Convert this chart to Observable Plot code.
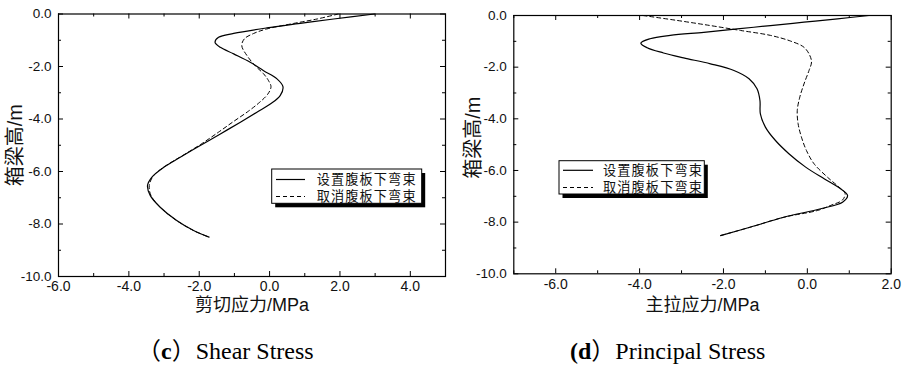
<!DOCTYPE html>
<html><head><meta charset="utf-8">
<script src="https://cdn.jsdelivr.net/npm/d3@7"></script>
<script src="https://cdn.jsdelivr.net/npm/@observablehq/plot@0.6"></script>
<style>
body{margin:0;background:#fff;}
#wrap{position:relative;width:907px;height:365px;overflow:hidden;background:#fff;}
.panel{position:absolute;top:0;height:320px;}
.cap{position:absolute;font-family:"Liberation Serif","Times New Roman",serif;font-size:24px;line-height:26px;white-space:nowrap;color:#000;}
.cj{font-family:"Noto Sans CJK SC",sans-serif;}
</style></head><body>
<div id="wrap">
  <div id="p1" class="panel" style="left:0;width:455px"></div>
  <div id="p2" class="panel" style="left:455px;width:452px"></div>
  <div class="cap" style="left:137px;top:336px"><span class="cj">（</span><b>c</b><span class="cj">）</span>Shear Stress</div>
  <div class="cap" style="left:570px;top:336px"><b>(d</b><span class="cj">）</span>Principal Stress</div>
</div>
<script>
// ---- data ----
const seriesNames = ["设置腹板下弯束", "取消腹板下弯束"];
const yMajor = [0, -2, -4, -6, -8, -10];
const yMinor = [-1, -3, -5, -7, -9];

// (c) Shear stress
const shearXMajor = [-6, -4, -2, 0, 2, 4];
const shearXMinor = [-5, -3, -1, 1, 3, 5];
const shearSolidX = [2.98,1.82,0.87,-0.08,-1.02,-1.45,-1.55,-1.4,-1.02,-0.55,-0.17,0.21,0.38,0.3,0.02,-0.36,-0.83,-1.4,-1.97,-2.54,-3.01,-3.35,-3.47,-3.39,-3.11,-2.64,-2.16,-1.72];
const shearSolidY = [0,-0.19,-0.36,-0.53,-0.74,-0.89,-1.08,-1.27,-1.52,-1.84,-2.16,-2.47,-2.77,-3.11,-3.43,-3.74,-4.12,-4.57,-5.01,-5.46,-5.84,-6.22,-6.54,-6.92,-7.36,-7.87,-8.25,-8.5];
const shearDashX = [1.95,1.35,0.68,-0.08,-0.45,-0.72,-0.79,-0.64,-0.41,-0.17,-0.03,0.04,-0.05,-0.28,-0.6,-1.03,-1.45,-1.94,-2.48,-2.97,-3.3,-3.42,-3.37,-3.11,-2.64,-2.16,-1.72];
const shearDashY = [0,-0.19,-0.36,-0.57,-0.74,-0.95,-1.21,-1.59,-1.97,-2.28,-2.54,-2.77,-3.05,-3.36,-3.7,-4.1,-4.5,-4.95,-5.4,-5.8,-6.16,-6.54,-6.92,-7.36,-7.87,-8.25,-8.5];

// (d) Principal stress
const prinXMajor = [-6, -4, -2, 0, 2];
const prinXMinor = [-7, -5, -3, -1, 1];
const prinSolidX = [1.47,0.72,-0.08,-0.88,-1.67,-2.47,-3.27,-3.75,-3.97,-3.82,-3.43,-2.95,-2.31,-1.75,-1.39,-1.2,-1.13,-1.12,-1.0,-0.76,-0.44,-0.04,0.4,0.76,0.96,0.84,0.32,-0.56,-1.35,-2.07];
const prinSolidY = [0,-0.13,-0.26,-0.39,-0.52,-0.65,-0.77,-0.9,-1.07,-1.25,-1.45,-1.64,-1.87,-2.13,-2.45,-2.84,-3.29,-3.81,-4.32,-4.84,-5.35,-5.87,-6.32,-6.67,-6.97,-7.23,-7.48,-7.81,-8.19,-8.52];
const prinDashX = [-3.92,-3.11,-2.31,-1.59,-0.88,-0.4,-0.08,0.06,0.1,0.04,-0.08,-0.18,-0.24,-0.22,-0.14,-0.02,0.16,0.48,0.76,0.9,0.84,0.56,0.24,-0.56,-1.35,-2.07];
const prinDashY = [0,-0.19,-0.39,-0.58,-0.77,-0.99,-1.23,-1.55,-1.81,-2.13,-2.65,-3.16,-3.68,-4.19,-4.71,-5.23,-5.74,-6.26,-6.65,-6.88,-7.14,-7.35,-7.55,-7.81,-8.19,-8.52];

const toRows = (xs, ys) => xs.map((x, i) => ({x, y: ys[i]}));
const fmt = d => d.toFixed(1);
const TICKFONT = "'Liberation Sans Narrow', 'Arial Narrow', 'Liberation Sans', sans-serif";
const CJK = "'Liberation Sans Narrow', 'Liberation Sans', 'Noto Sans CJK SC', sans-serif";

function panel(c) {
  const W = c.width - c.ml - c.mr, H = c.height - c.mt - c.mb;
  const solid = toRows(c.solidX, c.solidY), dash = toRows(c.dashX, c.dashY);
  const svg = Plot.plot({
    width: c.width, height: c.height,
    marginLeft: c.ml, marginRight: c.mr, marginTop: c.mt, marginBottom: c.mb,
    x: {domain: c.xdom, axis: null, label: null},
    y: {domain: [-10, 0], axis: null, label: null},
    style: {background: "white", overflow: "visible"},
    marks: [
      Plot.text(c.xMajor, {x: d => d, frameAnchor: "bottom", lineAnchor: "top", textAnchor: "middle", dy: 5, text: fmt, fontSize: 14, fontFamily: TICKFONT, fill: "#111"}),
      Plot.text(yMajor, {y: d => d, frameAnchor: "left", textAnchor: "end", lineAnchor: "middle", dx: -7, text: fmt, fontSize: 13.5, fontFamily: TICKFONT, fill: "#111"}),
      Plot.tickX(c.xMajor, {x: d => d, insetTop: H - 5, stroke: "black"}),
      Plot.tickX(c.xMinor, {x: d => d, insetTop: H - 3, stroke: "black"}),
      Plot.tickX(c.xMajor, {x: d => d, insetBottom: H - 5, stroke: "black"}),
      Plot.tickX(c.xMinor, {x: d => d, insetBottom: H - 3, stroke: "black"}),
      Plot.tickY(yMajor, {y: d => d, insetRight: W - 5, stroke: "black"}),
      Plot.tickY(yMinor, {y: d => d, insetRight: W - 3, stroke: "black"}),
      Plot.tickY(yMajor, {y: d => d, insetLeft: W - 5, stroke: "black"}),
      Plot.tickY(yMinor, {y: d => d, insetLeft: W - 3, stroke: "black"}),
      Plot.line(dash, {x: "x", y: "y", curve: "catmull-rom", stroke: "black", strokeWidth: 1, strokeDasharray: "4,3"}),
      Plot.line(solid, {x: "x", y: "y", curve: "catmull-rom", stroke: "black", strokeWidth: 1.2}),
      Plot.frame({stroke: "black", strokeWidth: 1.2}),
      Plot.text([c.xlabel], {frameAnchor: "bottom", lineAnchor: "middle", textAnchor: "middle", dy: c.xdy, fontSize: 18, fontFamily: CJK, fill: "#111"}),
      Plot.text([c.ylabel], {frameAnchor: "left", lineAnchor: "middle", textAnchor: "middle", dx: c.ydx, dy: c.ydy, rotate: -90, fontSize: 20, fontFamily: CJK, fill: "#111"})
    ]
  });
  // legend (pixel layout)
  const L = c.legend;
  const g = d3.select(svg).append("g");
  g.append("rect").attr("x", L.x + 3.5).attr("y", L.y + 4).attr("width", L.w).attr("height", L.h).attr("fill", "black");
  g.append("rect").attr("x", L.x).attr("y", L.y).attr("width", L.w).attr("height", L.h).attr("fill", "white").attr("stroke", "black").attr("stroke-width", 1);
  seriesNames.forEach((name, i) => {
    const yy = L.y + L.rows[i];
    g.append("line").attr("x1", L.x + L.l1).attr("x2", L.x + L.l2).attr("y1", yy).attr("y2", yy)
      .attr("stroke", "black").attr("stroke-width", i ? 1 : 1.2).attr("stroke-dasharray", i ? "4,3" : null);
    g.append("text").attr("x", L.x + L.tx).attr("y", yy).attr("dy", "0.36em").attr("text-anchor", "start")
      .attr("font-family", "'Noto Sans CJK SC', sans-serif").attr("font-size", 13.2).attr("letter-spacing", "1.1px")
      .attr("fill", "#111").text(name);
  });
  return svg;
}

document.getElementById("p1").appendChild(panel({
  width: 455, height: 320, ml: 58, mr: 10, mt: 13.5, mb: 44,
  xdom: [-6, 5], xMajor: shearXMajor, xMinor: shearXMinor,
  solidX: shearSolidX, solidY: shearSolidY, dashX: shearDashX, dashY: shearDashY,
  xlabel: "剪切应力/MPa", xdy: 28.5, ylabel: "箱梁高/m", ydx: -42.5, ydy: 0,
  legend: {x: 271.7, y: 169, w: 150, h: 34.3, l1: 4.3, l2: 33.3, tx: 45, rows: [10.5, 27.5]}
}));
document.getElementById("p2").appendChild(panel({
  width: 452, height: 320, ml: 58.3, mr: 16.3, mt: 15, mb: 46.7,
  xdom: [-7, 2], xMajor: prinXMajor, xMinor: prinXMinor,
  solidX: prinSolidX, solidY: prinSolidY, dashX: prinDashX, dashY: prinDashY,
  xlabel: "主拉应力/MPa", xdy: 31, ylabel: "箱梁高/m", ydx: -39.8, ydy: -7,
  legend: {x: 104, y: 160.7, w: 145.3, h: 33.3, l1: 4, l2: 34, tx: 44, rows: [9.6, 26.8]}
}));
</script>
</body></html>
